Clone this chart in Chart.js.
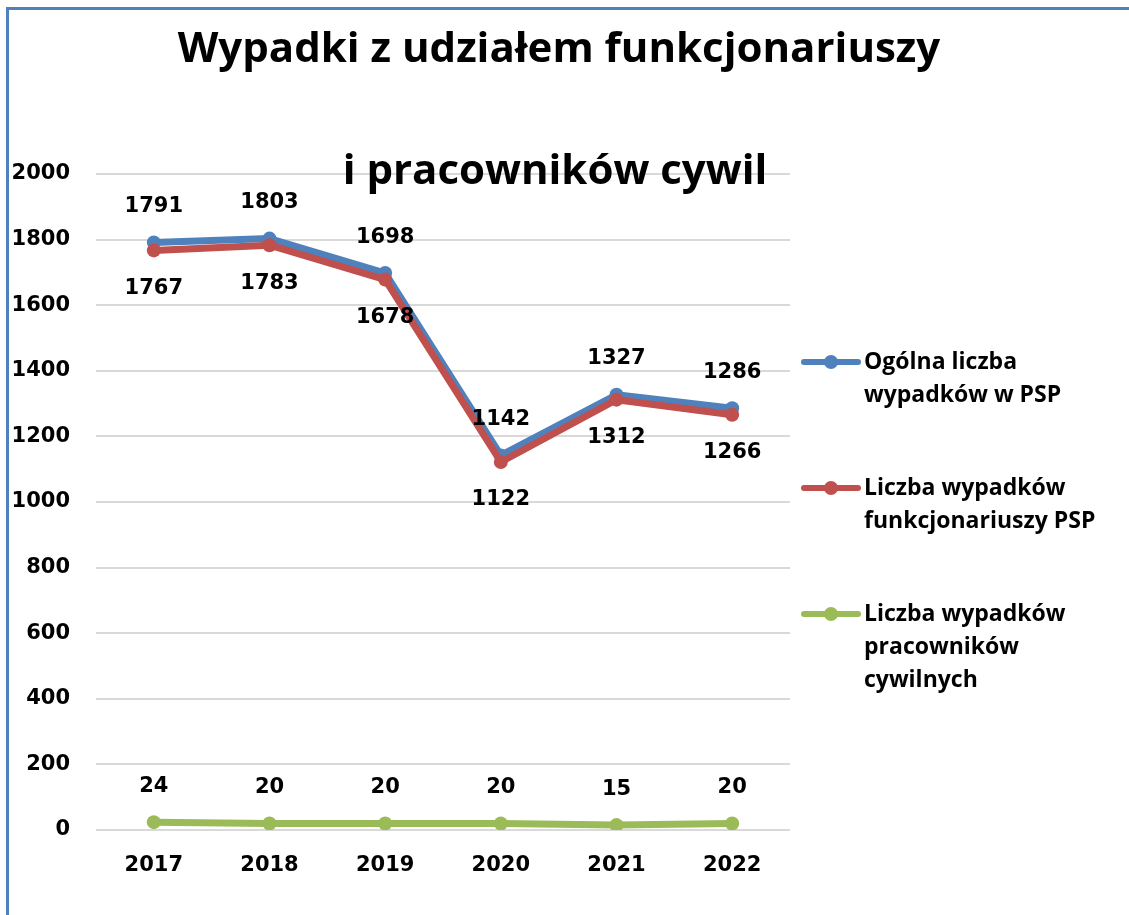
<!DOCTYPE html>
<html>
<head>
<meta charset="utf-8">
<title>Wypadki z udziałem funkcjonariuszy i pracowników cywil</title>
<script src="https://cdn.jsdelivr.net/npm/chart.js@4"></script>
<style>
    body { margin: 0; background: #fff; }
    #wrap { width: 1129px; height: 915px; }
</style>
</head>
<body>
<div id="wrap"><canvas id="myChart" width="1129" height="915"></canvas></div>
<script>
var years = ["2017", "2018", "2019", "2020", "2021", "2022"]

var ogolnaLiczba = [1791, 1803, 1698, 1142, 1327, 1286]
var funkcjonariusze = [1767, 1783, 1678, 1122, 1312, 1266]
var pracownicyCywilni = [24, 20, 20, 20, 15, 20]

var seriesNames = [
    ["Ogólna liczba", "wypadków w PSP"],
    ["Liczba wypadków", "funkcjonariuszy PSP"],
    ["Liczba wypadków", "pracowników", "cywilnych"]
]

var titleLines = ["Wypadki z udziałem funkcjonariuszy", "i pracowników cywil"]

var yTicks = [0, 200, 400, 600, 800, 1000, 1200, 1400, 1600, 1800, 2000]

var numFont = "bold 21px 'DejaVu Sans'"
var textFont = "bold 23px 'Open Sans'"

// frame line on top and left edge
var framePlugin = {
    id: "frame",
    beforeDraw: function(chart) {
        var ctx = chart.ctx
        ctx.save()
        ctx.strokeStyle = "#4f81bd"
        ctx.lineWidth = 3
        ctx.beginPath()
        ctx.moveTo(7.5, chart.height)
        ctx.lineTo(7.5, 8.5)
        ctx.lineTo(chart.width, 8.5)
        ctx.stroke()
        ctx.restore()
    }
}

// value labels: above the point for some series, below for others
var labelOffsets = [-36, 38, -36]
var valueLabels = {
    id: "valueLabels",
    afterDatasetsDraw: function(chart) {
        var ctx = chart.ctx
        ctx.save()
        ctx.font = numFont
        ctx.fillStyle = "#000"
        ctx.textAlign = "center"
        ctx.textBaseline = "middle"
        chart.data.datasets.forEach(function(ds, i) {
            var meta = chart.getDatasetMeta(i)
            meta.data.forEach(function(pt, j) {
                ctx.fillText(ds.data[j], pt.x, pt.y + labelOffsets[i])
            })
        })
        ctx.restore()
    }
}

// two line title, the second line sits on the top gridline
var titlePlugin = {
    id: "bigTitle",
    afterDraw: function(chart) {
        var ctx = chart.ctx
        ctx.save()
        ctx.font = "bold 42px 'Open Sans'"
        ctx.fillStyle = "#000"
        ctx.textAlign = "center"
        ctx.textBaseline = "alphabetic"
        ctx.fillText(titleLines[0], 559, 62)
        ctx.fillText(titleLines[1], 555, 184)
        ctx.restore()
    }
}

// legend on the right with wrapped names
var sideLegend = {
    id: "sideLegend",
    afterDraw: function(chart) {
        var ctx = chart.ctx
        var x = chart.chartArea.right + 14
        var y = 362
        var lineH = 33
        ctx.save()
        chart.data.datasets.forEach(function(ds, i) {
            ctx.strokeStyle = ds.borderColor
            ctx.lineWidth = 6
            ctx.lineCap = "round"
            ctx.beginPath()
            ctx.moveTo(x, y)
            ctx.lineTo(x + 54, y)
            ctx.stroke()
            ctx.fillStyle = ds.borderColor
            ctx.beginPath()
            ctx.arc(x + 27, y, 7, 0, Math.PI * 2)
            ctx.fill()

            ctx.font = textFont
            ctx.fillStyle = "#000"
            ctx.textAlign = "left"
            ctx.textBaseline = "middle"
            seriesNames[i].forEach(function(line, k) {
                ctx.fillText(line, x + 60, y + k * lineH)
            })
            y += seriesNames[i].length * lineH + 60
        })
        ctx.restore()
    }
}

var tickFont = { family: "DejaVu Sans", weight: "bold", size: 21 }

var ctx = document.getElementById('myChart').getContext('2d');
var myChart = new Chart(ctx, {
    type: 'line',
    data: {
        labels: years,
        datasets: [{
            label: seriesNames[0].join(" "),
            data: ogolnaLiczba,
            borderColor: "#4f81bd",
            backgroundColor: "#4f81bd",
            order: 3
        }, {
            label: seriesNames[1].join(" "),
            data: funkcjonariusze,
            borderColor: "#c0504d",
            backgroundColor: "#c0504d",
            order: 2
        }, {
            label: seriesNames[2].join(" "),
            data: pracownicyCywilni,
            borderColor: "#9bbb59",
            backgroundColor: "#9bbb59",
            order: 1
        }]
    },
    options: {
        responsive: false,
        animation: false,
        layout: {
            padding: { top: 174, right: 339, bottom: 0, left: 0 }
        },
        elements: {
            line: { borderWidth: 7, tension: 0, borderJoinStyle: "round", borderCapStyle: "round" },
            point: { radius: 7, borderWidth: 0, hoverRadius: 7 }
        },
        scales: {
            x: {
                offset: true,
                grid: { display: false, drawTicks: false },
                border: { display: false },
                ticks: { color: "#000", font: tickFont, padding: 23 },
                afterFit: function(scale) { scale.height = 85 }
            },
            y: {
                min: 0,
                max: 2000,
                afterBuildTicks: function(scale) {
                    scale.ticks = yTicks.map(function(v) { return { value: v } })
                },
                grid: { color: "#d9d9d9", lineWidth: 2, drawTicks: false },
                border: { display: false },
                ticks: {
                    color: "#000",
                    font: tickFont,
                    padding: 26,
                    callback: function(value) { return String(value) }
                },
                afterFit: function(scale) { scale.width = 96 }
            }
        },
        plugins: {
            legend: { display: false },
            title: { display: false },
            tooltip: { enabled: false }
        }
    },
    plugins: [framePlugin, valueLabels, titlePlugin, sideLegend]
});
</script>
</body>
</html>
